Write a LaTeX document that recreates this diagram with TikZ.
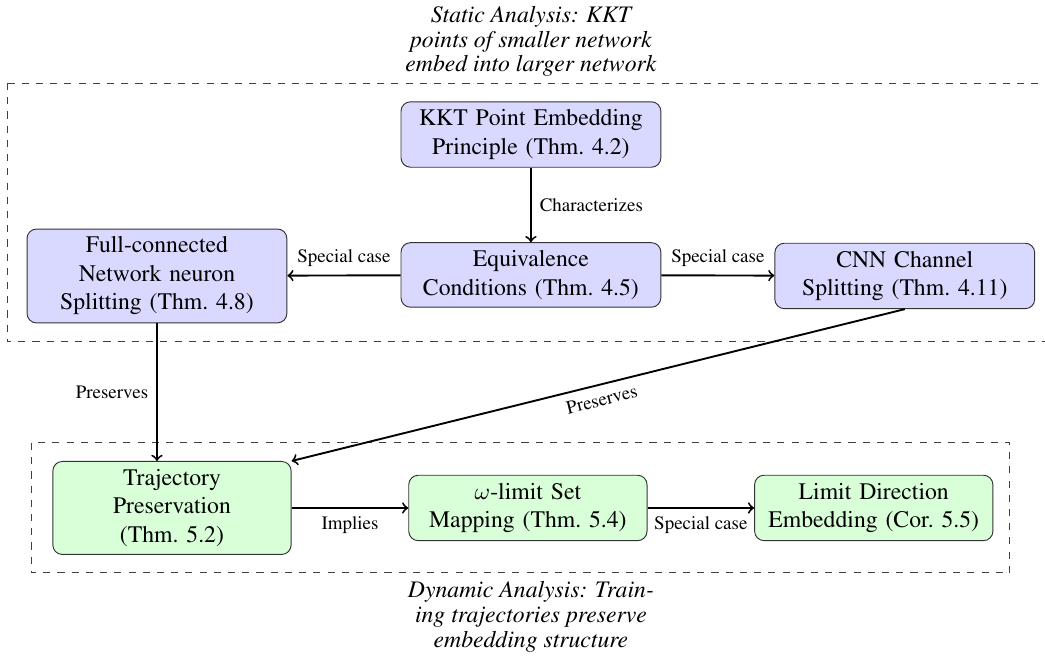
\documentclass[tikz,border=0pt]{standalone}
\usepackage{amsmath}
\usepackage[T1]{fontenc}
\renewcommand{\rmdefault}{ptm}
\usepackage{tikz}

\begin{document}
\begin{tikzpicture}[
  thm/.style={draw=black!80, rounded corners, fill=blue!15, align=center, text width=3.62cm},
  dyn/.style={thm, fill=green!15, text width=3.3cm},
  lab/.style={font=\footnotesize},
  arr/.style={->, thick},
  grp/.style={draw=black!75, dashed},
  grptitle/.style={font=\itshape\fontsize{10}{10.4}\selectfont, align=center}
]
\useasboundingbox (0,0) rectangle (15.5,-9.745);
% group frames
\draw[grp] (0.104,-1.231) rectangle (15.72,-5.072);
\draw[grp] (0.46,-6.57) rectangle (14.98,-8.498);
\node[grptitle] (stat) at (7.875,-0.615) {Static Analysis: KKT\\ points of smaller network\\ embed into larger network};
\node[grptitle] (dyna) at (7.875,-9.15) {Dynamic Analysis: Train-\\ ing trajectories preserve\\ embedding structure};
% static part
\node[thm] (kkt) at (7.875,-1.995) {KKT Point Embedding\\ Principle (Thm.~4.2)};
\node[thm] (equiv) at (7.875,-4.078) {Equivalence\\ Conditions (Thm.~4.5)};
\node[thm] (full) at (2.328,-4.093) {Full-connected\\ Network neuron\\ Splitting (Thm.~4.8)};
\node[thm] (cnn) at (13.42,-4.093) {CNN Channel\\ Splitting (Thm.~4.11)};
% dynamic part
\node[dyn] (traj) at (2.551,-7.534) {Trajectory\\ Preservation\\ (Thm.~5.2)};
\node[dyn] (omega) at (7.830,-7.534) {$\omega$-limit Set\\ Mapping (Thm.~5.4)};
\node[dyn] (limdir) at (12.96,-7.534) {Limit Direction\\ Embedding (Cor.~5.5)};
\draw[arr] (kkt) -- node[lab, right] {Characterizes} (equiv);
\draw[arr] (equiv) -- node[lab, above] {Special case} (full);
\draw[arr] (equiv) -- node[lab, above] {Special case} (cnn);
\draw[arr] (full) -- node[lab, left] {Preserves} (full.south |- traj.north);
\draw[arr] (cnn.south) -- node[lab, sloped, below] {Preserves} (traj.north east);
\draw[arr] (traj) -- node[lab, below] {Implies} (omega);
\draw[arr] (omega) -- node[lab, below] {Special case} (limdir);
\end{tikzpicture}
\end{document}
